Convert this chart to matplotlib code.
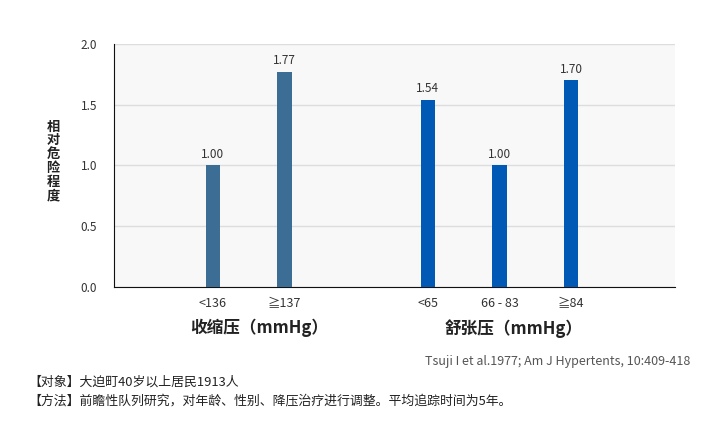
import matplotlib.pyplot as plt

plt.rcParams['font.family'] = ['Noto Sans CJK SC', 'DejaVu Sans']

# data
categories = ['<136', '≧137', '<65', '66 - 83', '≧84']
values = [1.00, 1.77, 1.54, 1.00, 1.70]
positions = [0, 1, 3, 4, 5]
colors = ['#3b6d95', '#3b6d95', '#0059b5', '#0059b5', '#0059b5']
groups = ['收缩压（mmHg）', '舒张压（mmHg）']
group_centers = [0.65, 4.2]
yticks = [0.0, 0.5, 1.0, 1.5, 2.0]

fig = plt.figure(figsize=(7.2, 4.45), dpi=100)
ax = fig.add_axes([114 / 720, 1 - 287 / 445, (675 - 114) / 720, (287 - 44) / 445])
ax.set_facecolor('#f8f8f8')

ax.bar(positions, values, width=0.2, color=colors, zorder=3)
for x, v in zip(positions, values):
    ax.text(x, v + 0.04, f'{v:.2f}', ha='center', va='bottom', fontsize=8.5, color='#333333')

ax.set_xlim(-1.38, 6.45)
ax.set_ylim(0, 2.0)
ax.set_yticks(yticks)
ax.set_yticklabels([f'{t:.1f}' for t in yticks], fontsize=8.5, color='#333333')
ax.set_xticks(positions)
ax.set_xticklabels(categories, fontsize=9, color='#333333')
ax.tick_params(length=0, pad=7)
ax.tick_params(axis='y', pad=12)
ax.grid(axis='y', color='#dddddd', linewidth=1, zorder=0)

for s in ['top', 'right']:
    ax.spines[s].set_visible(False)
ax.spines['left'].set_color('#111111')
ax.spines['bottom'].set_color('#111111')

for c, g in zip(group_centers, groups):
    ax.text(c, -0.17, g, ha='center', va='center', fontsize=12, fontweight='bold',
            color='#222222', transform=ax.get_xaxis_transform())

fig.text(53 / 720, 1 - 161 / 445, '\n'.join('相对危险程度'), ha='center', va='center',
         fontsize=9.5, fontweight='bold', linespacing=0.98, color='#222222')

fig.text(690 / 720, 1 - 361 / 445, 'Tsuji I et al.1977; Am J Hypertents, 10:409-418',
         ha='right', va='center', fontsize=9, color='#555555')
fig.text(28 / 720, 1 - 382 / 445, '【对象】大迫町40岁以上居民1913人',
         ha='left', va='center', fontsize=9.3, color='#222222')
fig.text(28 / 720, 1 - 401 / 445, '【方法】前瞻性队列研究，对年龄、性别、降压治疗进行调整。平均追踪时间为5年。',
         ha='left', va='center', fontsize=9.3, color='#222222')

fig.savefig('out.png', dpi=100)
